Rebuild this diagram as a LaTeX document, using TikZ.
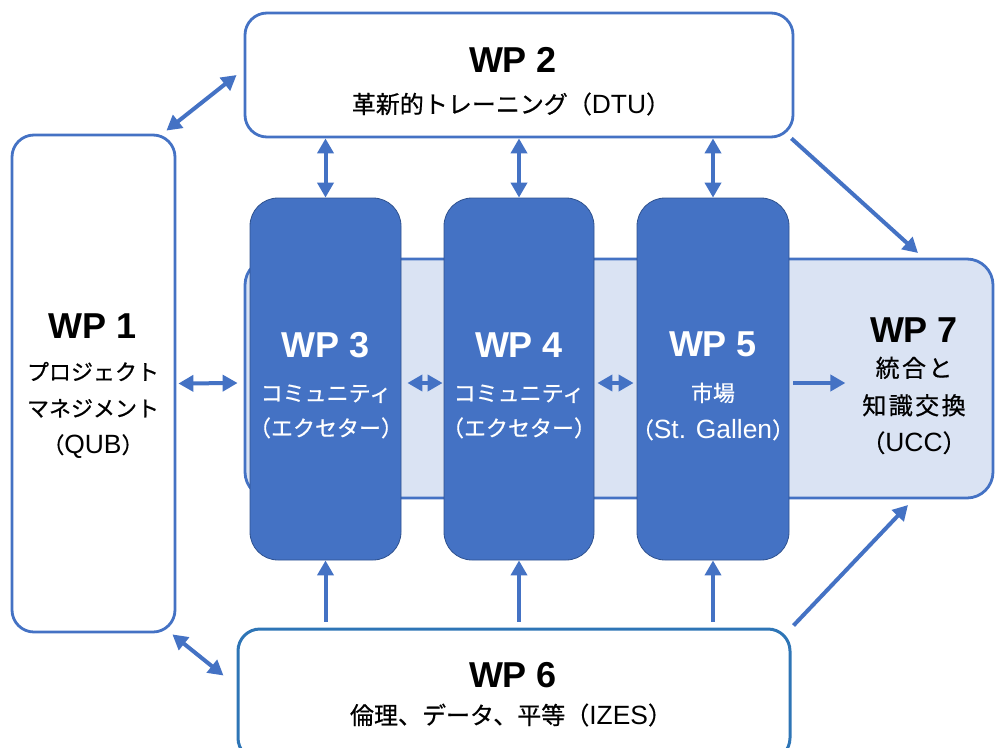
\documentclass[tikz,border=0pt]{standalone}
\usepackage{fontspec}
\setmainfont{Liberation Sans}
\newfontfamily\jp{Noto Sans CJK JP}[FakeBold=0.6]
\newfontfamily\latA{Liberation Sans}[Scale=1.2]
\newfontfamily\latB{Liberation Sans}[Scale=1.1]
\usetikzlibrary{arrows.meta,calc}
\definecolor{wpblue}{HTML}{4472C4}
\definecolor{wpdark}{HTML}{2F528F}
\definecolor{wplight}{HTML}{DAE3F3}
\definecolor{wpsix}{HTML}{2E75B6}
\begin{document}
\begin{tikzpicture}[x=1pt,y=-1pt,
  whitebox/.style={draw=wpblue,line width=2.8pt,fill=white,rounded corners=22pt,inner sep=0pt},
  darkbox/.style={draw=wpdark,line width=0.8pt,fill=wpblue,rounded corners=28pt,inner sep=0pt},
  lightbox/.style={draw=wpblue,line width=2.8pt,fill=wplight,rounded corners=26pt,inner sep=0pt},
  wptitle/.style={font=\bfseries\fontsize{36}{40}\selectfont,inner sep=0pt},
  wpsub/.style={font=\jp\fontsize{22}{36.5}\selectfont,align=center,inner sep=0pt},
  conn/.style={draw=wpblue,line width=4pt},
  tip/.tip={Triangle[length=15pt,width=16pt]},
  dbl/.style={conn,tip-tip},
  one/.style={conn,-tip}]
\useasboundingbox (0,0) rectangle (995,747);
% WP7 background
\node[lightbox,minimum width=748pt,minimum height=239pt] (wp7) at (619,378.5) {};
% outer white boxes
\node[whitebox,minimum width=548pt,minimum height=124pt] (wp2) at (519,75) {};
\node[whitebox,minimum width=163pt,minimum height=497pt] (wp1) at (93.5,383.5) {};
\node[whitebox,draw=wpsix,line width=3pt,minimum width=552pt,minimum height=131pt] (wp6) at (514,694.5) {};
% dark boxes
\node[darkbox,minimum width=151pt,minimum height=362pt] (wp3) at (325.5,379) {};
\node[darkbox,minimum width=150pt,minimum height=362pt] (wp4) at (519,379) {};
\node[darkbox,minimum width=152pt,minimum height=362pt] (wp5) at (713,379) {};
% texts
\node[wptitle] (t2) at (513,60) {WP 2};
\node[wpsub,font=\jp\fontsize{24}{30}\selectfont] (s2) at (511,104) {革新的トレーニング（{\latB DTU}）};
\node[wptitle] (t1) at (93,326) {WP 1};
\node[wpsub] (s1) at (93,410) {プロジェクト\\マネジメント\\（{\latA QUB}）};
\node[wptitle,text=white] (t3) at (326,345) {WP 3};
\node[wpsub,text=white,font=\jp\fontsize{22}{35}\selectfont] (s3) at (326,411.5) {コミュニティ\\（エクセター）};
\node[wptitle,text=white] (t4) at (519,345) {WP 4};
\node[wpsub,text=white,font=\jp\fontsize{22}{35}\selectfont] (s4) at (519,411.5) {コミュニティ\\（エクセター）};
\node[wptitle,text=white] (t5) at (713,344) {WP 5};
\node[wpsub,text=white,font=\jp\fontsize{22}{37}\selectfont] (s5) at (713,411.5) {市場\\（{\latA St. Gallen}）};
\node[wptitle] (t7) at (914,330) {WP 7};
\node[wpsub,font=\jp\fontsize{24}{37.5}\selectfont\addfontfeatures{LetterSpace=10}] (s7) at (914,405.5) {統合と\\知識交換\\（{\latB UCC}）};
\node[wptitle] (t6) at (513,675) {WP 6};
\node[wpsub,font=\jp\fontsize{24}{30}\selectfont] (s6) at (511,715) {倫理、データ、平等（{\latB IZES}）};
% free ends
\coordinate (p7a) at (918,253);
\coordinate (p7b) at (908,505);
% connectors
\draw[dbl] ($(wp1.north east)+(-10,-3)$) -- ($(wp2.west)+(-7,0)$);
\draw[dbl] (wp2.south -| wp3.north) -- (wp3.north);
\draw[dbl] (wp2.south -| wp4.north) -- (wp4.north);
\draw[dbl] (wp2.south -| wp5.north) -- (wp5.north);
\draw[one] ($(wp2.south east)+(-3,0)$) -- (p7a);
\draw[dbl] ($(wp1.east)+(2,0)$) -- ($(wp3.west)+(-12,4)$);
\draw[dbl] ($(wp3.east)+(6,4)$) -- ($(wp4.west)+(-1,4)$);
\draw[dbl] ($(wp4.east)+(3,4)$) -- ($(wp5.west)+(-3,4)$);
\draw[one] ($(wp5.east)+(4,4)$) -- ($(wp5.east)+(56,4)$);
\draw[one] ($(wp6.north -| wp3.south)+(0,-6)$) -- (wp3.south);
\draw[one] ($(wp6.north -| wp4.south)+(0,-6)$) -- (wp4.south);
\draw[one] ($(wp6.north -| wp5.south)+(0,-6)$) -- (wp5.south);
\draw[one] ($(wp6.north east)+(2,-2)$) -- (p7b);
\draw[dbl] ($(wp1.south east)+(-4,1)$) -- ($(wp6.north west)+(-13,48)$);
\end{tikzpicture}
\end{document}
